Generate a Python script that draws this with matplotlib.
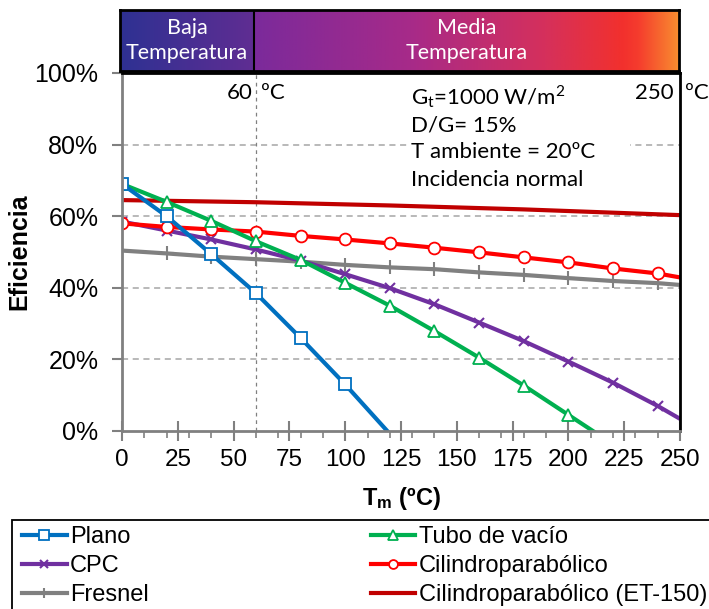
import matplotlib.pyplot as plt
import numpy as np
from matplotlib.patches import Rectangle
from matplotlib.ticker import MultipleLocator, FuncFormatter

plt.rcParams['font.family'] = ['Liberation Sans', 'DejaVu Sans']
plt.rcParams['mathtext.fontset'] = 'custom'
plt.rcParams['mathtext.rm'] = 'Lato'
plt.rcParams['mathtext.bf'] = 'Liberation Sans:bold'

# data (temperature ºC, efficiency %)
t20 = [0, 20, 40, 60, 80, 100, 120]
plano = [69, 60, 49.4, 38.5, 26, 13, -0.8]

t_tubo = [0, 20, 40, 60, 80, 100, 120, 140, 160, 180, 200, 220]
tubo = [69, 64, 58.7, 53, 47.8, 41.4, 35, 27.9, 20.5, 12.7, 4.5, -3.7]

t_full = [0, 20, 40, 60, 80, 100, 120, 140, 160, 180, 200, 220, 240, 250]
cpc = [58.5, 56, 53.5, 50.7, 47.6, 43.8, 39.9, 35.4, 30.3, 25.1, 19.4, 13.5, 7, 3.4]
cilindro = [58, 57, 56.3, 55.7, 54.5, 53.5, 52.4, 51.2, 49.9, 48.5, 47.1, 45.4, 44, 42.9]
fresnel = [50.4, 49.6, 48.7, 48.0, 47.3, 46.4, 45.7, 45.2, 44.3, 43.6, 42.7, 41.9, 41.3, 40.8]

t_et = [0, 60, 120, 180, 250]
et150 = [64.5, 63.9, 63.0, 61.9, 60.3]

conditions = ['$\\mathrm{G_t}$=1000 W/m$^2$', 'D/G= 15%', 'T ambiente = 20ºC', 'Incidencia normal']

W, H = 709, 609
def fx(p):
    return p / W
def fy(p):
    return 1 - p / H

fig = plt.figure(figsize=(W / 100, H / 100), dpi=100)
ax = fig.add_axes([fx(122), fy(431), fx(680) - fx(122), fy(73) - fy(431)])

lw = 3
ax.plot(t_et, et150, color='#C00000', lw=lw, label='Cilindroparabólico (ET-150)', zorder=3)
ax.plot(t_full, fresnel, color='#808080', lw=lw, marker='+', ms=10, mew=1.5,
        markevery=list(range(13)), label='Fresnel', zorder=4)
ax.plot(t_full, cpc, color='#7030A0', lw=lw, marker='x', ms=7, mew=1.5,
        markevery=list(range(13)), label='CPC', zorder=5)
ax.plot(t_full, cilindro, color='#FF0000', lw=lw, marker='o', ms=8.5, mew=1.3, mfc='white',
        markevery=list(range(13)), label='Cilindroparabólico', zorder=6)
ax.plot(t_tubo, tubo, color='#00B050', lw=lw, marker='^', ms=9, mew=1.3, mfc='white',
        markevery=list(range(11)), label='Tubo de vacío', zorder=7)
ax.plot(t20, plano, color='#0070C0', lw=lw, marker='s', ms=9, mew=1.3, mfc='white',
        markevery=list(range(6)), label='Plano', zorder=8)

ax.set_xlim(0, 250)
ax.set_ylim(0, 100)
ax.xaxis.set_major_locator(MultipleLocator(25))
ax.xaxis.set_minor_locator(MultipleLocator(10))
ax.yaxis.set_major_locator(MultipleLocator(20))
ax.yaxis.set_major_formatter(FuncFormatter(lambda v, p: '%d%%' % v))
ax.tick_params(axis='x', which='major', direction='inout', length=14, width=1.5,
               color='#808080', labelsize=17.5, pad=6)
ax.tick_params(axis='x', which='minor', direction='out', length=5, width=1.2, color='#808080')
ax.tick_params(axis='y', direction='out', length=7, width=1.5, color='#808080',
               labelsize=18, pad=10)

for v in [20, 40, 60, 80]:
    ax.axhline(v, color='#A6A6A6', lw=1.1, ls=(0, (4, 3)), zorder=1)
ax.axvline(60, color='#808080', lw=0.9, ls=(0, (3, 3)), zorder=1)

ax.spines['left'].set_color('#808080')
ax.spines['bottom'].set_color('#808080')
ax.spines['left'].set_linewidth(2)
ax.spines['bottom'].set_linewidth(2)
ax.spines['right'].set_color('black')
ax.spines['right'].set_linewidth(2)
ax.spines['top'].set_color('black')
ax.spines['top'].set_linewidth(2)
for s in ax.spines.values():
    s.set_zorder(10)

ax.set_ylabel('Eficiencia', fontsize=18, fontweight='bold', labelpad=2)
ax.set_xlabel('$\\mathbf{T_m}$ (ºC)', fontsize=17, fontweight='bold', labelpad=10)

# conditions box
ax.add_patch(Rectangle((128.5, 66.5), 99, 32, facecolor='white', edgecolor='none', zorder=2))
for i, s in enumerate(conditions):
    ax.text(129.5, 93.1 - 7.65 * i, s, fontsize=16, family='Lato', va='center', ha='left', zorder=3)

ax.text(58.3, 94.4, '60', fontsize=16, family='Lato', ha='right', va='center')
ax.text(62.5, 94.4, 'ºC', fontsize=16, family='Lato', ha='left', va='center')
ax.text(247, 94.4, '250', fontsize=16, family='Lato', ha='right', va='center')
ax.text(252.3, 94.4, 'ºC', fontsize=16, family='Lato', ha='left', va='center', clip_on=False)

# temperature band on top
bax = fig.add_axes([fx(120), fy(71), fx(679) - fx(120), fy(10) - fy(71)])
stops_x = [0, 60, 60.01, 130, 190, 225, 232, 250]
stops_c = ['#2E3192', '#602D93', '#7B2A9B', '#A72A89', '#D5305C', '#F2302D', '#F53C2D', '#F88D30']
rgb = np.array([[int(c[i:i + 2], 16) / 255 for i in (1, 3, 5)] for c in stops_c])
xs = np.linspace(0, 250, 600)
grad = np.stack([np.interp(xs, stops_x, rgb[:, k]) for k in range(3)], axis=-1)
bax.imshow(grad[None, :, :], aspect='auto', extent=[0, 250, 0, 1])
bax.axvline(60, color='black', lw=1.5)
bax.set_xlim(0, 250)
bax.set_ylim(0, 1)
bax.set_xticks([])
bax.set_yticks([])
for s in bax.spines.values():
    s.set_linewidth(2)
    s.set_color('black')
bax.text(30, 0.5, 'Baja\nTemperatura', color='white', fontsize=15.5, family='Lato',
         ha='center', va='center', linespacing=1.3)
bax.text(155, 0.5, 'Media\nTemperatura', color='white', fontsize=15.5, family='Lato',
         ha='center', va='center', linespacing=1.3)

# legend
h, l = ax.get_legend_handles_labels()
order = ['Plano', 'CPC', 'Fresnel', 'Tubo de vacío', 'Cilindroparabólico', 'Cilindroparabólico (ET-150)']
hl = dict(zip(l, h))
fig.legend([hl[k] for k in order], order, loc='upper left', bbox_to_anchor=(fx(22), fy(526)),
           bbox_transform=fig.transFigure, ncol=2, frameon=False, fontsize=17,
           handlelength=1.9, handletextpad=0.13, columnspacing=9.4, labelspacing=0.3,
           borderpad=0, borderaxespad=0, markerscale=0.75)
fig.patches.append(Rectangle((fx(12), -0.1), 1.2, fy(520) + 0.1, transform=fig.transFigure,
                             fill=False, edgecolor='black', lw=1.3))

fig.savefig('out.png', dpi=100)
